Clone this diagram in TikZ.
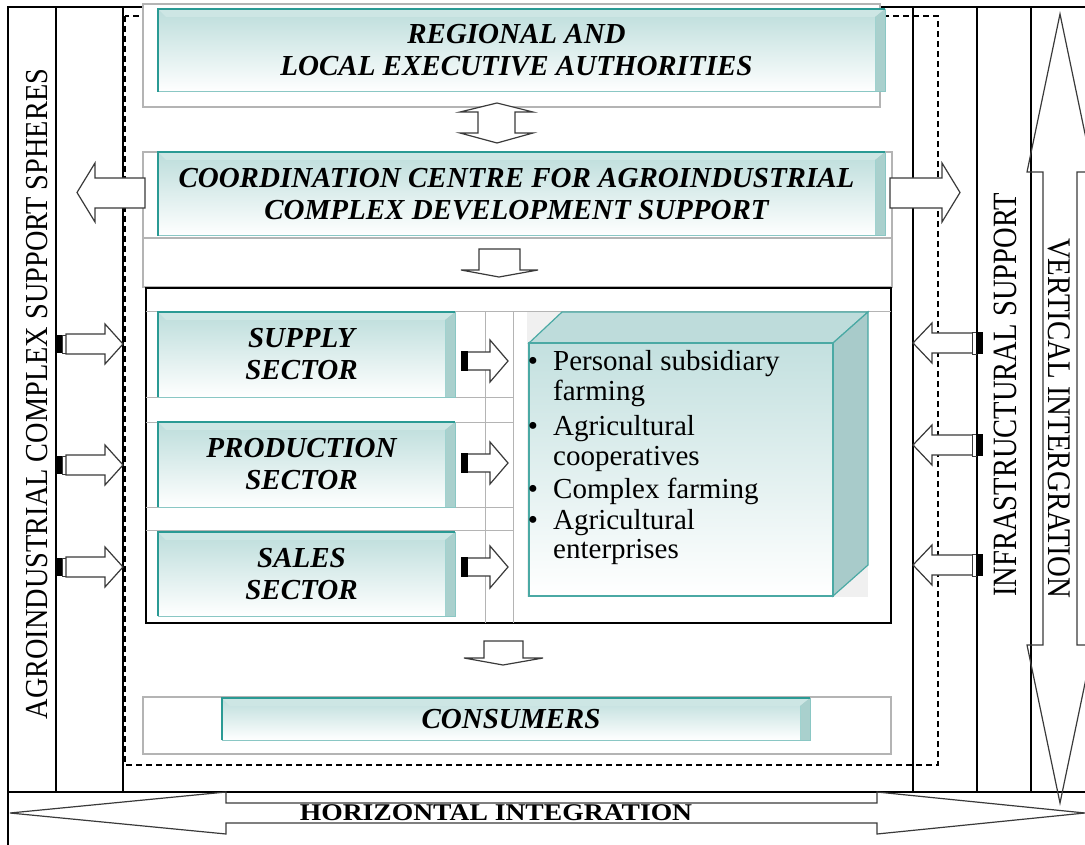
\documentclass[tikz,border=0pt]{standalone}
\usepackage{fontspec}
\usepackage{graphicx}
\setmainfont{Liberation Serif}
\definecolor{tealdark}{HTML}{2A9A94}
\definecolor{tealfill}{HTML}{BCDDDB}
\definecolor{tealtop}{HTML}{CDE6E4}
\definecolor{tealside}{HTML}{A9D0CD}
\definecolor{boxgray}{HTML}{B4B4B4}
\definecolor{arrowgray}{HTML}{3A3A3A}
\definecolor{cubetop}{HTML}{BEDCDB}
\definecolor{cubeside}{HTML}{A8CBCA}
\definecolor{cubefront}{HTML}{C3E0DF}
\newcommand{\mytitlefont}{\fontsize{29}{32}\selectfont\bfseries\itshape}
\newcommand{\mybulletfont}{\fontsize{29}{30}\selectfont}
\newcommand{\tealbox}[6]{%
  \fill[top color=tealfill, bottom color=white] (#2,#3) rectangle (#4,#5);
  \fill[tealtop] (#2,#3) -- (#4,#3) -- ({#4-10},{#3+8}) -- ({#2+8},{#3+8}) -- cycle;
  \fill[tealside] ({#4-10},{#3+8}) -- (#4,#3) -- (#4,#5) -- ({#4-10},#5) -- cycle;
  \draw[tealdark!45, line width=0.8] ({#4-10},{#3+8}) -- ({#4-10},#5);
  \draw[tealdark!55, line width=1] (#4,#3) -- (#4,#5) -- (#2,#5);
  \draw[tealdark, line width=1.6] (#2,#5) -- (#2,#3) -- (#4,#3);
  \node[align=center, font=\mytitlefont, inner sep=0pt] (#1) at ({(#2+#4-10)/2},{(#3+#5)/2}) {#6};
}
\tikzset{
  frame/.style={draw=black, line width=1.3},
  graybox/.style={draw=boxgray, line width=1.2},
  gridline/.style={draw=boxgray, line width=1},
  blockarrow/.style={draw=arrowgray, fill=white, line width=1.2, line join=miter},
  openarrow/.style={draw=arrowgray, line width=1.2, line join=miter},
}
\begin{document}
\begin{tikzpicture}[x=1pt,y=-1pt]
\useasboundingbox (0,0) rectangle (1085,845);
\begin{scope}
\clip (0,0) rectangle (1085,845);
% outer frame
\draw[frame] (8,845) -- (8,7) -- (1085,7);
\draw[frame] (8,792) -- (1085,792);
\draw[frame] (56,7) -- (56,792);
\draw[frame] (123,7) -- (123,792);
\draw[frame] (913,7) -- (913,792);
\draw[frame] (977,7) -- (977,792);
\draw[frame] (1031,7) -- (1031,792);
% dashed region
\draw[black, line width=1.3, dash pattern=on 6pt off 4pt] (125,16) rectangle (938,765);
% gray group boxes
\draw[graybox, fill=white] (143,4) rectangle (880,107);
\draw[graybox, fill=white] (143,152) rectangle (892,238);
\draw[graybox, fill=white] (143,238) rectangle (892,287);
\draw[graybox, fill=white] (143,697) rectangle (891,754);
% sectors container
\draw[black, line width=1.6, fill=white] (146,288) rectangle (891,623);
\draw[gridline] (146,312) -- (891,312);
\draw[gridline] (146,397) -- (513,397);
\draw[gridline] (146,422) -- (513,422);
\draw[gridline] (146,507) -- (513,507);
\draw[gridline] (146,530) -- (513,530);
\draw[gridline] (485,312) -- (485,623);
\draw[gridline] (513,312) -- (513,623);
% teal boxes
\tealbox{regional}{158}{9}{885}{92}{REGIONAL AND\\LOCAL EXECUTIVE AUTHORITIES}
\tealbox{coord}{158}{152}{885}{236}{COORDINATION CENTRE FOR AGROINDUSTRIAL\\COMPLEX DEVELOPMENT SUPPORT}
\tealbox{supply}{158}{312}{455}{397}{SUPPLY\\SECTOR}
\tealbox{production}{158}{422}{455}{507}{PRODUCTION\\SECTOR}
\tealbox{sales}{158}{532}{455}{616}{SALES\\SECTOR}
\tealbox{consumers}{222}{698}{810}{740}{CONSUMERS}
% 3D box
\fill[gray!12] (527,312) rectangle (868,597);
\filldraw[fill=cubetop, draw=tealdark!85, line width=1.2] (529,343) -- (562,312) -- (868,312) -- (833,343) -- cycle;
\filldraw[fill=cubeside, draw=tealdark!85, line width=1.2] (833,343) -- (868,312) -- (868,565) -- (833,596) -- cycle;
\draw[top color=cubefront, bottom color=white, draw=tealdark!85, line width=1.4] (529,343) rectangle (833,596);
\node[font=\mybulletfont, inner sep=0pt, anchor=base] (b1) at (533,370) {\textbullet};
\node[font=\mybulletfont, inner sep=0pt, anchor=base] (b2) at (533,435) {\textbullet};
\node[font=\mybulletfont, inner sep=0pt, anchor=base] (b3) at (533,498) {\textbullet};
\node[font=\mybulletfont, inner sep=0pt, anchor=base] (b4) at (533,529) {\textbullet};
\node[font=\mybulletfont, inner sep=0pt, anchor=base west] (t1) at (553,370) {Personal subsidiary};
\node[font=\mybulletfont, inner sep=0pt, anchor=base west] (t1b) at (553,400) {farming};
\node[font=\mybulletfont, inner sep=0pt, anchor=base west] (t2) at (553,435) {Agricultural};
\node[font=\mybulletfont, inner sep=0pt, anchor=base west] (t2b) at (553,465) {cooperatives};
\node[font=\mybulletfont, inner sep=0pt, anchor=base west] (t3) at (553,498) {Complex farming};
\node[font=\mybulletfont, inner sep=0pt, anchor=base west] (t4) at (553,529) {Agricultural};
\node[font=\mybulletfont, inner sep=0pt, anchor=base west] (t4b) at (553,558) {enterprises};
% vertical block arrows in the centre
\draw[blockarrow] (497,103) -- (533,112) -- (515,112) -- (515,133) -- (533,133) -- (497,143) -- (460,133) -- (478,133) -- (478,112) -- (460,112) -- cycle;
\draw[blockarrow] (479,249) -- (520,249) -- (520,270) -- (538,270) -- (499,277) -- (461,270) -- (479,270) -- cycle;
\draw[blockarrow] (484,641) -- (523,641) -- (523,658) -- (543,658) -- (503,665) -- (464,658) -- (484,658) -- cycle;
% coordination side arrows
\draw[blockarrow] (145,178) -- (95,178) -- (95,163) -- (77,192.5) -- (95,222) -- (95,208) -- (145,208) -- cycle;
\draw[blockarrow] (890,178) -- (942,178) -- (942,163) -- (960,192.5) -- (942,222) -- (942,208) -- (890,208) -- cycle;
% left support arrows
\foreach \yc in {344,465,567}{
  \fill[black] (55,\yc-9) rectangle (62,\yc+9);
  \draw[arrowgray, line width=1, fill=white] (62,\yc-9) rectangle (66,\yc+9);
  \draw[blockarrow] (66,\yc-10) -- (105,\yc-10) -- (105,\yc-20) -- (123,\yc) -- (105,\yc+20) -- (105,\yc+10) -- (66,\yc+10) -- cycle;
}
% right support arrows
\foreach \yc in {343,445,565}{
  \draw[blockarrow] (973,\yc-10) -- (932,\yc-10) -- (932,\yc-20) -- (913,\yc) -- (932,\yc+20) -- (932,\yc+10) -- (973,\yc+10) -- cycle;
  \draw[arrowgray, line width=1, fill=white] (972,\yc-11) rectangle (976,\yc+11);
  \fill[black] (976,\yc-11) rectangle (983,\yc+11);
}
% sector arrows
\foreach \yc in {361,463,567}{
  \draw[blockarrow] (467,\yc-9) -- (490,\yc-9) -- (490,\yc-21) -- (508,\yc) -- (490,\yc+21) -- (490,\yc+9) -- (467,\yc+9) -- cycle;
  \fill[black] (461,\yc-10) rectangle (468,\yc+10);
}
% integration arrows
\draw[openarrow] (10,813) -- (226,792) -- (226,803) -- (877,803) -- (877,792) -- (1085,813) -- (877,834) -- (877,823) -- (226,823) -- (226,834) -- cycle;
\draw[openarrow] (1060,14) -- (1093,172) -- (1077,172) -- (1077,645) -- (1093,645) -- (1060,803) -- (1027,645) -- (1043,645) -- (1043,172) -- (1027,172) -- cycle;
% labels
\node[inner sep=0pt, font=\fontsize{24}{24}\selectfont\bfseries] (horiz) at (496,813) {\scalebox{1.15}[1]{HORIZONTAL INTEGRATION}};
\node[inner sep=0pt, rotate=90, font=\fontsize{32}{32}\selectfont] (agro) at (37,394) {\scalebox{0.885}[1]{AGROINDUSTRIAL COMPLEX SUPPORT SPHERES}};
\node[inner sep=0pt, rotate=90, font=\fontsize{34}{34}\selectfont] (infra) at (1005,395) {\scalebox{0.84}[1]{INFRASTRUCTURAL SUPPORT}};
\node[inner sep=0pt, rotate=-90, font=\fontsize{33}{33}\selectfont] (vert) at (1059,418) {\scalebox{0.875}[1]{VERTICAL INTERGRATION}};
\end{scope}
\end{tikzpicture}
\end{document}
